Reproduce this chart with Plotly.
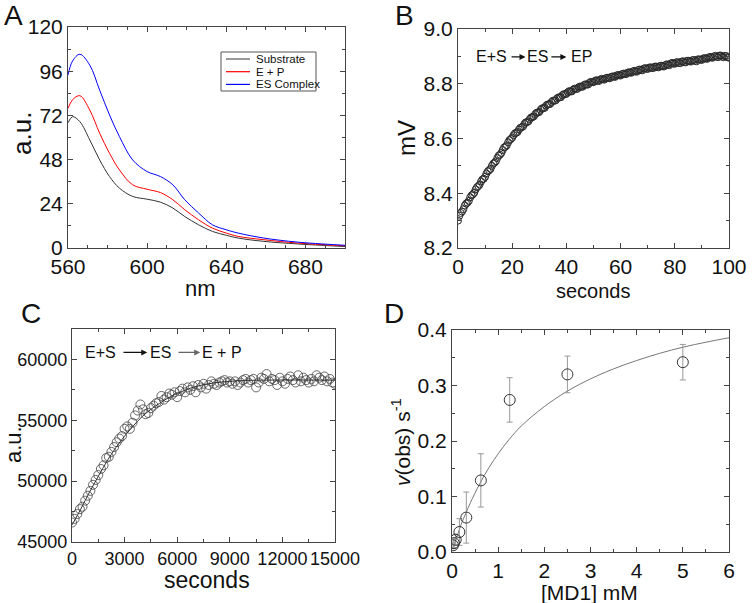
import plotly.graph_objects as go

W, H = 752, 603
FONT = "Liberation Sans, Arial, sans-serif"

# ---------- Panel A: spectra ----------
wl = [560, 562.3, 566, 571, 576, 581, 586, 592.7, 600, 606.7, 613, 619, 626, 633, 640, 646, 659, 676, 698, 700]
substrate = [68, 71.3, 68.6, 58.7, 47.8, 38.8, 32.5, 28.0, 26.5, 24.9, 21.7, 17.1, 12.6, 9.0, 6.9, 5.4, 3.6, 2.2, 0.9, 0.8]
e_plus_p = [75.8, 80.5, 82.7, 74.9, 62.3, 51.4, 42.4, 34.3, 31.9, 30.1, 26.2, 20.8, 15.3, 10.8, 8.1, 6.3, 4.5, 2.7, 1.3, 1.2]
es_complex = [93.9, 101.5, 105.2, 99.3, 85.7, 72.2, 60.5, 47.8, 41.5, 38.8, 34.3, 26.2, 19.0, 12.6, 9.9, 8.1, 5.4, 3.2, 1.6, 1.5]
legend_names = ["Substrate", "E + P", "ES Complex"]
legend_colors = ["#555555", "#ff0000", "#0000ff"]

# ---------- Panel B: mV vs seconds ----------
t_b = list(range(0, 101))
mv_b = [8.300, 8.328, 8.342, 8.362, 8.372, 8.392, 8.402, 8.422, 8.432, 8.450, 8.460, 8.480, 8.489,
        8.508, 8.517, 8.537, 8.547, 8.567, 8.575, 8.594, 8.603, 8.619, 8.624, 8.639, 8.644, 8.659,
        8.663, 8.677, 8.681, 8.694, 8.697, 8.710, 8.712, 8.724, 8.726, 8.738, 8.739, 8.750, 8.751,
        8.762, 8.763, 8.773, 8.772, 8.782, 8.781, 8.790, 8.789, 8.798, 8.797, 8.807, 8.806, 8.813,
        8.810, 8.818, 8.815, 8.822, 8.820, 8.827, 8.825, 8.832, 8.830, 8.837, 8.835, 8.842, 8.840,
        8.847, 8.844, 8.852, 8.849, 8.857, 8.854, 8.860, 8.857, 8.863, 8.860, 8.866, 8.863, 8.871,
        8.868, 8.876, 8.873, 8.879, 8.875, 8.882, 8.878, 8.884, 8.881, 8.887, 8.882, 8.889, 8.887,
        8.894, 8.891, 8.898, 8.895, 8.902, 8.897, 8.903, 8.897, 8.901, 8.895]
t_b_half = [i + 0.5 for i in range(0, 100)]
mv_b_half = [8.318, 8.333, 8.355, 8.366, 8.385, 8.396, 8.414, 8.426, 8.443, 8.453, 8.472, 8.484,
             8.500, 8.512, 8.529, 8.541, 8.558, 8.570, 8.586, 8.598, 8.612, 8.621, 8.633, 8.641,
             8.653, 8.660, 8.671, 8.678, 8.689, 8.695, 8.705, 8.711, 8.720, 8.725, 8.733, 8.738,
             8.746, 8.750, 8.758, 8.762, 8.769, 8.772, 8.778, 8.781, 8.787, 8.789, 8.795, 8.797,
             8.803, 8.806, 8.810, 8.811, 8.815, 8.816, 8.820, 8.821, 8.825, 8.826, 8.830, 8.831,
             8.835, 8.836, 8.840, 8.841, 8.845, 8.845, 8.850, 8.850, 8.855, 8.855, 8.859, 8.858,
             8.862, 8.861, 8.865, 8.864, 8.868, 8.869, 8.874, 8.874, 8.878, 8.876, 8.881, 8.879,
             8.884, 8.882, 8.886, 8.884, 8.889, 8.888, 8.892, 8.892, 8.896, 8.896, 8.900, 8.899,
             8.903, 8.899, 8.902, 8.897]

# ---------- Panel C: a.u. vs seconds ----------
t_c = list(range(0, 15001, 150))
au_c = [46600, 46900, 47300, 47700, 47900, 48400, 48800, 49200, 49700, 50100, 50500, 51000, 51300,
        51900, 52000, 52400, 52800, 53200, 53500, 53700, 54300, 54500, 54300, 54800, 55400, 55800,
        56300, 55900, 55500, 55600, 56000, 56200, 56400, 56500, 57000, 56700, 56900, 57200, 57100,
        57300, 56900, 57400, 57600, 57300, 57700, 57500, 57800, 57300, 57900, 57700, 58000, 57600,
        57900, 58200, 58000, 57900, 58100, 58200, 58300, 58100, 58200, 58000, 58200, 57900, 58100,
        58300, 58400, 58100, 58300, 58400, 57700, 58100, 58500, 58400, 58800, 58200, 58400, 58300,
        57900, 58500, 58200, 58000, 58400, 58600, 58300, 58100, 58700, 58200, 58500, 58300, 58100,
        58400, 58200, 58700, 58500, 58300, 58600, 58200, 58400, 58100, 58000]
fit_t_c = [0, 500, 1000, 1500, 2000, 2500, 3000, 3500, 4000, 4500, 5000, 5500, 6000, 7000, 8000,
           9000, 10000, 11000, 12000, 13000, 14000, 15000]
fit_v_c = [46400, 47700, 49100, 50400, 51650, 52750, 53700, 54550, 55300, 55900, 56400, 56850,
           57200, 57750, 58050, 58200, 58280, 58300, 58310, 58310, 58300, 58300]

# ---------- Panel D: v(obs) vs [MD1] ----------
md1 = [0.02, 0.04, 0.08, 0.16, 0.31, 0.625, 1.25, 2.5, 5.0]
vobs = [0.012, 0.016, 0.022, 0.036, 0.062, 0.129, 0.274, 0.320, 0.342]
vobs_err = [0.006, 0.008, 0.010, 0.024, 0.046, 0.048, 0.040, 0.033, 0.032]
fit_x_d = [0.02, 0.1, 0.2, 0.3, 0.4, 0.6, 0.8, 1.0, 1.25, 1.5, 2.0, 2.5, 3.0, 3.5, 4.0, 4.5, 5.0, 5.5, 6.0]
fit_y_d = [0.005, 0.026, 0.050, 0.070, 0.089, 0.123, 0.152, 0.177, 0.204, 0.227, 0.262, 0.290,
           0.312, 0.330, 0.345, 0.358, 0.369, 0.378, 0.386]


def px(x):
    return x / W


def py(y):
    return 1 - y / H


fig = go.Figure()

# Panel A traces
for ys, nm, col in zip([substrate, e_plus_p, es_complex], legend_names, ["#333333", "#ff0000", "#0000ff"]):
    fig.add_trace(go.Scatter(x=wl, y=ys, mode="lines", name=nm, showlegend=False,
                             line=dict(color=col, width=1, shape="spline"), xaxis="x", yaxis="y"))

# Panel B
fig.add_trace(go.Scatter(x=t_b + t_b_half, y=mv_b + mv_b_half, mode="markers", showlegend=False,
                         marker=dict(symbol="circle-open", size=7, color="#2a2a2a", line=dict(width=1)),
                         xaxis="x2", yaxis="y2"))

# Panel C
fig.add_trace(go.Scatter(x=t_c, y=au_c, mode="markers", showlegend=False,
                         marker=dict(symbol="circle-open", size=9, color="#444444", line=dict(width=0.8)),
                         xaxis="x3", yaxis="y3"))
fig.add_trace(go.Scatter(x=fit_t_c, y=fit_v_c, mode="lines", showlegend=False,
                         line=dict(color="#333333", width=1, shape="spline"), xaxis="x3", yaxis="y3"))

# Panel D
fig.add_trace(go.Scatter(x=fit_x_d, y=fit_y_d, mode="lines", showlegend=False,
                         line=dict(color="#777777", width=1, shape="spline"), xaxis="x4", yaxis="y4"))
fig.add_trace(go.Scatter(x=md1, y=vobs, mode="markers", showlegend=False,
                         error_y=dict(type="data", array=vobs_err, color="#999999", thickness=1, width=3),
                         marker=dict(symbol="circle-open", size=11, color="#333333", line=dict(width=1)),
                         xaxis="x4", yaxis="y4"))


def ax(domain, rng, dtick, minor_dtick, anchor, tickfont=21, fmt=None):
    d = dict(domain=domain, range=rng, dtick=dtick, tick0=0, anchor=anchor, automargin=False,
             showline=True, mirror="allticks", linecolor="#444444", linewidth=1,
             ticks="inside", ticklen=5, tickwidth=1, tickcolor="#444444",
             showgrid=False, zeroline=False,
             tickfont=dict(family=FONT, size=tickfont, color="#111111"),
             minor=dict(dtick=minor_dtick, ticks="inside", ticklen=3, tickcolor="#444444", showgrid=False))
    if fmt is not None:
        d["tickformat"] = fmt
    return d


fig.update_layout(
    width=W, height=H, margin=dict(l=0, r=0, t=0, b=0, autoexpand=False),
    template="none",
    paper_bgcolor="white", plot_bgcolor="white",
    font=dict(family=FONT, color="#111111"),
    showlegend=False,
    xaxis=ax([px(68), px(345)], [560, 700], 40, 10, "y"),
    yaxis=ax([py(248), py(27)], [0, 120], 24, 12, "x"),
    xaxis2=ax([px(458), px(729)], [0, 100], 20, 10, "y2"),
    yaxis2=ax([py(248), py(29)], [8.2, 9.0], 0.2, 0.1, "x2", fmt=".1f"),
    xaxis3=ax([px(72), px(335)], [0, 15000], 3000, 1500, "y3", tickfont=18, fmt="d"),
    yaxis3=ax([py(542), py(329)], [45000, 62500], 5000, 2500, "x3", tickfont=18, fmt="d"),
    xaxis4=ax([px(452), px(729)], [0, 6], 1, 0.5, "y4"),
    yaxis4=ax([py(552), py(330)], [0, 0.4], 0.1, 0.05, "x4", fmt=".1f"),
)

ann = []
shapes = []


def label(text, x, y, size, angle=0, xanchor="center"):
    ann.append(dict(text=text, x=px(x), y=py(y), xref="paper", yref="paper", showarrow=False,
                    xanchor=xanchor, yanchor="middle", textangle=angle,
                    font=dict(family=FONT, size=size, color="#111111")))


# manual legend for panel A
shapes.append(dict(type="rect", xref="paper", yref="paper", x0=px(221), x1=px(316), y0=py(91), y1=py(52),
                   line=dict(color="#555555", width=1), fillcolor="white", layer="above"))
for i, (nm, col) in enumerate(zip(legend_names, legend_colors)):
    yy = 59 + 12.7 * i
    shapes.append(dict(type="line", xref="paper", yref="paper", x0=px(226), x1=px(250), y0=py(yy), y1=py(yy),
                       line=dict(color=col, width=1.2), layer="above"))
    label(nm, 254, yy, 11.5, xanchor="left")

# panel letters
label("A", 13, 16, 28)
label("B", 404, 16, 28)
label("C", 31, 313, 28)
label("D", 394, 313, 28)
# axis titles
label("a.u.", 22, 134, 26, -90)
label("nm", 200, 289, 22)
label("mV", 406, 138, 24, -90)
label("seconds", 593, 291, 20)
label("a.u.", 13, 445, 22, -90)
label("seconds", 207, 580, 23)
label("[MD1] mM", 589, 592, 21)
label("<i>v</i>(obs) s<sup>-1</sup>", 401, 442, 21, -90)


def dtext(text, x, y, xa, ya, size=16):
    ann.append(dict(text=text, x=x, y=y, xref=xa, yref=ya, showarrow=False,
                    xanchor="center", yanchor="middle",
                    font=dict(family=FONT, size=size, color="#111111")))


def darrow(x0, x1, y, xa, ya, color="#111111"):
    ann.append(dict(text="", x=x1, y=y, ax=x0, ay=y, xref=xa, yref=ya, axref=xa, ayref=ya,
                    showarrow=True, arrowhead=2, arrowsize=1, arrowwidth=1.2, arrowcolor=color,
                    standoff=0, startstandoff=0))


# Panel B reaction scheme
dtext("E+S", 12.5, 8.898, "x2", "y2")
darrow(19.2, 24.9, 8.898, "x2", "y2")
dtext("ES", 29.4, 8.898, "x2", "y2")
darrow(33.9, 40.0, 8.898, "x2", "y2")
dtext("EP", 45.6, 8.898, "x2", "y2")

# Panel C reaction scheme
dtext("E+S", 1600, 60574, "x3", "y3")
darrow(2850, 4290, 60574, "x3", "y3")
dtext("ES", 5020, 60574, "x3", "y3")
darrow(5990, 7310, 60574, "x3", "y3", color="#666666")
dtext("E + P", 8560, 60574, "x3", "y3")

fig.update_layout(annotations=ann, shapes=shapes)
fig.write_html("out.html")
